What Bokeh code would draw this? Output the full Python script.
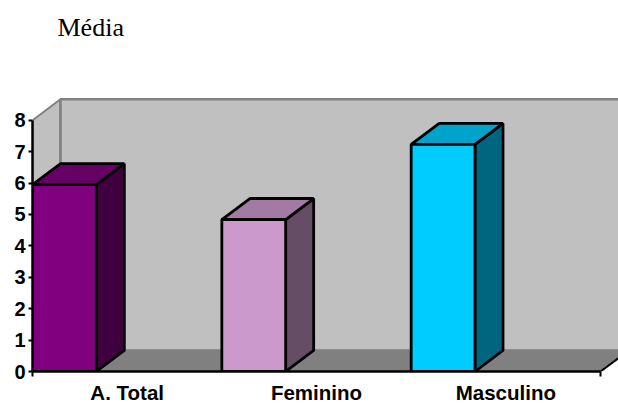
from bokeh.plotting import figure
from bokeh.models import Range1d, FixedTicker, Label
from bokeh.embed import file_html
from bokeh.resources import INLINE

categories = ["A. Total", "Feminino", "Masculino"]
values = [5.95, 4.84, 7.23]
front_colors = ["#800080", "#CC99CC", "#00CCFF"]
top_colors = ["#660066", "#A37AA3", "#00A3CC"]
side_colors = ["#400040", "#664D66", "#006680"]
y_ticks = [0, 1, 2, 3, 4, 5, 6, 7, 8]
title_text = "Média"

BAR_W = 0.337
DX = 0.148
DY = 0.669
YMAX = 8
N = len(categories)

p = figure(width=618, height=403, frame_width=586, frame_height=371,
           output_backend="svg", toolbar_location=None,
           x_range=Range1d(0, 3.095), y_range=Range1d(0, 11.815),
           min_border_left=32, min_border_right=0, min_border_top=0, min_border_bottom=0,
           outline_line_color=None, background_fill_color="white")
p.grid.visible = False

# walls and floor
p.patch([0, DX, DX, 0], [YMAX, YMAX + DY, DY, 0], fill_color="#C0C0C0",
        line_color="#808080", line_width=2)
p.patch([DX, N + DX, N + DX, DX], [YMAX + DY, YMAX + DY, DY, DY], fill_color="#C0C0C0",
        line_color="#808080", line_width=2.5)
p.patch([0, N, N + DX, DX], [0, 0, DY, DY], fill_color="#808080",
        line_color="#808080", line_width=1)
p.line([N, N + DX], [0, DY], line_color="black", line_width=2)

# 3D bars
for i, v in enumerate(values):
    l, r = i, i + BAR_W
    p.patch([r, r + DX, r + DX, r], [0, DY, v + DY, v], fill_color=side_colors[i],
            line_color="black", line_width=2.8)
    p.patch([l, r, r + DX, l + DX], [v, v, v + DY, v + DY], fill_color=top_colors[i],
            line_color="black", line_width=2.8)
    p.patch([l, r, r, l], [0, 0, v, v], fill_color=front_colors[i],
            line_color="black", line_width=2.8)

# axes
ya = p.yaxis[0]
ya.ticker = FixedTicker(ticks=y_ticks)
ya.bounds = (0, YMAX)
ya.axis_line_color = "black"
ya.axis_line_width = 2.5
ya.major_tick_line_color = "black"
ya.major_tick_line_width = 2
ya.major_tick_in = 0
ya.major_tick_out = 4
ya.minor_tick_line_color = None
ya.major_label_standoff = 3
ya.major_label_text_font = "Liberation Sans"
ya.major_label_text_font_size = "20px"
ya.major_label_text_font_style = "bold"
ya.major_label_text_color = "black"

xa = p.xaxis[0]
centers = [i + 0.5 for i in range(N)]
xa.ticker = FixedTicker(ticks=centers, minor_ticks=[0, N])
xa.major_label_overrides = {c: n for c, n in zip(centers, categories)}
xa.bounds = (0, N)
xa.axis_line_color = "black"
xa.axis_line_width = 2.5
xa.major_tick_line_color = None
xa.major_tick_in = 0
xa.major_tick_out = 0
xa.minor_tick_line_color = "black"
xa.minor_tick_line_width = 2
xa.minor_tick_in = 0
xa.minor_tick_out = 5
xa.major_label_standoff = 4
xa.major_label_text_line_height = 1.0
xa.major_label_text_font = "Liberation Sans"
xa.major_label_text_font_size = "20.5px"
xa.major_label_text_font_style = "bold"
xa.major_label_text_color = "black"

p.add_layout(Label(x=25, y=344, x_units="screen", y_units="screen", text=title_text,
                   text_font="Liberation Serif", text_font_size="26px", text_color="black",
                   text_baseline="alphabetic"))
open("out.html", "w").write(file_html(p, INLINE))
